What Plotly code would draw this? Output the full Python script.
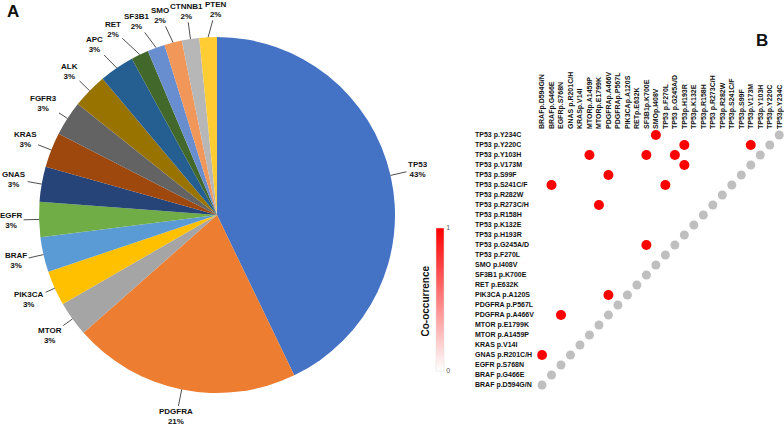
import math
import plotly.graph_objects as go

W, H = 784, 426

# ---------------- data ----------------
genes = ["TP53", "PDGFRA", "MTOR", "PIK3CA", "BRAF", "EGFR", "GNAS", "KRAS",
         "FGFR3", "ALK", "APC", "RET", "SF3B1", "SMO", "CTNNB1", "PTEN"]
counts = [27, 13, 2, 2, 2, 2, 2, 2, 2, 2, 2, 1, 1, 1, 1, 1]
pie_colors = ["#4472C4", "#ED7D31", "#A5A5A5", "#FFC000", "#5B9BD5", "#70AD47",
              "#264478", "#9E480E", "#636363", "#997300", "#255E91", "#43682B",
              "#698ED0", "#F1975A", "#B7B7B7", "#FFCD33"]

# matrix rows, bottom -> top
mutations = ["BRAF p.D594G/N", "BRAF p.G466E", "EGFR p.S768N", "GNAS p.R201C/H",
             "KRAS p.V14I", "MTOR p.A1459P", "MTOR p.E1799K", "PDGFRA p.A466V",
             "PDGFRA p.P567L", "PIK3CA p.A120S", "RET p.E632K", "SF3B1 p.K700E",
             "SMO p.I408V", "TP53 p.F270L", "TP53 p.G245A/D", "TP53 p.H193R",
             "TP53 p.K132E", "TP53 p.R158H", "TP53 p.R273C/H", "TP53 p.R282W",
             "TP53 p.S241C/F", "TP53 p.S99F", "TP53 p.V173M", "TP53 p.Y103H",
             "TP53 p.Y220C", "TP53 p.Y234C"]
# column header texts, left -> right (as printed)
col_labels = ["BRAFp.D594G/N", "BRAFp.G466E", "EGFRp.S768N", "GNAS p.R201C/H",
              "KRASp.V14I", "MTORp.A1459P", "MTORp.E1799K", "PDGFRAp.A466V",
              "PDGFRAp.P567L", "PIK3CAp.A120S", "RETp.E632K", "SF3B1p.K700E",
              "SMOp.I408V", "TP53 p.F270L", "TP53 p.G245A/D", "TP53p.H193R",
              "TP53p.K132E", "TP53p.R158H", "TP53 p.R273C/H", "TP53p.R282W",
              "TP53p.S241C/F", "TP53p.S99F", "TP53p.V173M", "TP53p.Y103H",
              "TP53p.Y220C", "TP53p.Y234C"]
# co-occurring pairs (row mutation, column mutation)
co_pairs = [("TP53 p.Y234C", "SMO p.I408V"),
            ("TP53 p.Y220C", "TP53 p.H193R"),
            ("TP53 p.Y220C", "TP53 p.V173M"),
            ("TP53 p.Y103H", "MTOR p.A1459P"),
            ("TP53 p.Y103H", "SF3B1 p.K700E"),
            ("TP53 p.Y103H", "TP53 p.G245A/D"),
            ("TP53 p.V173M", "TP53 p.H193R"),
            ("TP53 p.S99F", "PDGFRA p.A466V"),
            ("TP53 p.S241C/F", "BRAF p.G466E"),
            ("TP53 p.S241C/F", "TP53 p.F270L"),
            ("TP53 p.R273C/H", "MTOR p.E1799K"),
            ("TP53 p.G245A/D", "SF3B1 p.K700E"),
            ("PIK3CA p.A120S", "PDGFRA p.A466V"),
            ("PDGFRA p.A466V", "EGFR p.S768N"),
            ("GNAS p.R201C/H", "BRAF p.D594G/N")]
co_value = [1] * len(co_pairs)

FONT = "Liberation Sans, Arial, sans-serif"

# ---------------- layout geometry ----------------
PIE_L, PIE_T, PIE_D = 39, 37, 356
CX, CY, R = PIE_L + PIE_D / 2, PIE_T + PIE_D / 2, PIE_D / 2

n = len(mutations)
MX0 = 537.25          # left edge of matrix area (px)
MY_TOP, MY_BOT = 130, 390

fig = go.Figure()

fig.add_trace(go.Pie(
    labels=genes, values=counts, sort=False, direction="clockwise", rotation=0,
    marker=dict(colors=pie_colors, line=dict(width=0)),
    textinfo="none", hoverinfo="label+percent", showlegend=False,
    domain=dict(x=[PIE_L / W, (PIE_L + PIE_D) / W],
                y=[1 - (PIE_T + PIE_D) / H, 1 - PIE_T / H])))

# diagonal (self) dots
fig.add_trace(go.Scatter(
    x=list(range(n)), y=list(range(n)), mode="markers",
    marker=dict(size=9, color="#BFBFBF"), showlegend=False, hoverinfo="skip"))

# co-occurrence dots
fig.add_trace(go.Scatter(
    x=[mutations.index(c) for r, c in co_pairs],
    y=[mutations.index(r) for r, c in co_pairs],
    mode="markers", showlegend=False,
    marker=dict(size=10, color=co_value, cmin=0, cmax=1,
                colorscale=[[0, "#FFFFFF"], [1, "#FF0000"]],
                showscale=True,
                colorbar=dict(thickness=8, thicknessmode="pixels",
                              len=143, lenmode="pixels",
                              x=435.5 / W, xanchor="left",
                              y=1 - 299.5 / H, yanchor="middle",
                              xpad=0, ypad=0,
                              tickvals=[0, 1], ticktext=["0", "1"], ticks="",
                              tickfont=dict(family=FONT, size=7, color="#555"),
                              outlinewidth=0.5, outlinecolor="#DDDDDD"))))

# ---------------- pie labels ----------------
total = sum(counts)
cum = 0
labs = []
for g, c in zip(genes, counts):
    mid = (cum + c / 2) / total * 2 * math.pi
    cum += c
    dx, dy = math.sin(mid), -math.cos(mid)
    ex, ey = CX + R * dx, CY + R * dy
    d = 28
    labs.append(dict(g=g, pct=round(100 * c / total), ex=ex, ey=ey,
                     lx=ex + d * dx, ly=ey + d * dy, ang=math.degrees(mid),
                     w=len(g) * 5.2 + 2))

# spread crowded labels near the top horizontally
top = sorted([l for l in labs if l["ang"] > 318], key=lambda l: l["lx"])
for _ in range(200):
    for a, b in zip(top[:-1], top[1:]):
        if abs(a["ly"] - b["ly"]) < 20:
            need = (a["w"] + b["w"]) / 2 + 1 - (b["lx"] - a["lx"])
            if need > 0:
                a["lx"] -= need * 0.6
                b["lx"] += need * 0.4

annotations = []
for l in labs:
    annotations.append(dict(
        x=l["ex"] / W, y=1 - l["ey"] / H, xref="paper", yref="paper",
        ax=l["lx"] - l["ex"], ay=l["ly"] - l["ey"],
        text=f"{l['g']}<br>{l['pct']}%", showarrow=True, arrowhead=0,
        arrowwidth=0.8, arrowcolor="#222", standoff=0, startstandoff=0,
        font=dict(family=FONT, size=8, color="#111", weight="bold"),
        align="center"))

# row labels (left aligned)
for i, m in enumerate(mutations):
    annotations.append(dict(
        x=472.5 / W, xref="paper", y=i, yref="y", text=m, showarrow=False,
        xanchor="left", yanchor="middle",
        font=dict(family=FONT, size=7, color="#111", weight="bold")))

# colorbar title
annotations.append(dict(
    x=424.5 / W, y=1 - 301 / H, xref="paper", yref="paper",
    text="Co-occurrence", textangle=-90, showarrow=False,
    xanchor="center", yanchor="middle",
    font=dict(family=FONT, size=10, color="#111", weight="bold")))

# panel letters
annotations.append(dict(x=13 / W, y=1 - 12 / H, xref="paper", yref="paper",
                        text="A", showarrow=False, xanchor="center", yanchor="middle",
                        font=dict(family=FONT, size=17, color="#111", weight="bold")))
annotations.append(dict(x=762 / W, y=1 - 40 / H, xref="paper", yref="paper",
                        text="B", showarrow=False, xanchor="center", yanchor="middle",
                        font=dict(family=FONT, size=17, color="#111", weight="bold")))

fig.update_layout(
    width=W, height=H, margin=dict(l=0, r=0, t=0, b=0, autoexpand=False),
    paper_bgcolor="white", plot_bgcolor="white",
    annotations=annotations,
    xaxis=dict(domain=[MX0 / W, 1.0], range=[-0.5, n - 0.5], automargin=False,
               tickvals=list(range(n)), ticktext=col_labels, side="top",
               tickangle=-90, showgrid=False, zeroline=False, showline=False,
               ticks="", fixedrange=True,
               tickfont=dict(family=FONT, size=7, color="#111", weight="bold")),
    yaxis=dict(domain=[1 - MY_BOT / H, 1 - MY_TOP / H], range=[-0.5, n - 0.5],
               automargin=False,
               showticklabels=False, showgrid=False, zeroline=False,
               showline=False, ticks="", fixedrange=True),
)

fig.write_html("out.html",
               config={"displayModeBar": False},
               post_script="document.body.style.margin='0';"
                           "document.body.style.overflow='hidden';")
